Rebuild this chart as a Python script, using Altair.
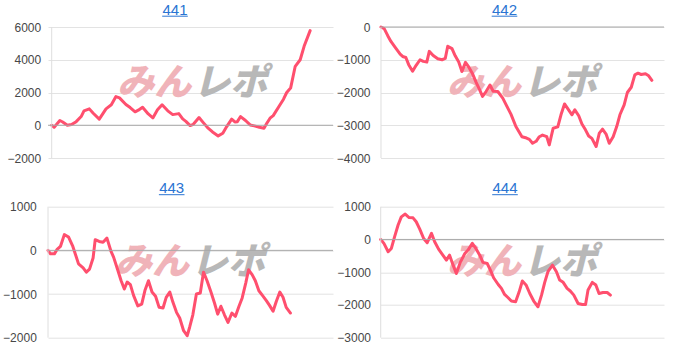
import altair as alt
import pandas as pd

titles = ["441", "442", "443", "444"]

x441 = [0, 0.7, 2.3, 3.1, 4.4, 5.6, 6.9, 8.3, 9.1, 10.6, 11.7, 13.4, 15.3, 16.8, 18.1, 19.1, 20.9, 22.1, 23.5, 24.4,
        25.6, 27.2, 28.5, 29.8, 31.1, 32.7, 34.1, 35.8, 36.9, 37.8, 39.0, 39.9, 41.5, 42.7, 43.9, 45.3, 46.9, 48.2, 49.3, 50.7,
        51.6, 52.3, 53.2, 54.6, 55.9, 57.1, 58.5, 59.8, 60.6, 61.5, 62.4, 64.1, 65.3, 66.2, 67.3, 68.6, 70.0, 71.1, 72.8]
v441 = [0, -120, 290, 200, 0, 40, 220, 530, 880, 1000, 730, 370, 1000, 1250, 1750, 1670, 1270, 1080, 820, 920,
        1100, 690, 450, 940, 1250, 880, 650, 710, 390, 240, -20, 60, 470, 160, -140, -410, -650, -490, -80, 370,
        200, 220, 530, 290, 20, -40, -120, -180, 120, 430, 590, 1180, 1590, 2000, 2270, 3600, 4000, 4820, 5780]

x442 = [0, 0.9, 1.9, 2.8, 4.0, 5.4, 6.1, 7.0, 7.8, 8.9, 9.9, 11.0, 11.9, 12.9, 13.6, 14.7, 16.0, 17.2, 18.1, 18.8,
        20.0, 20.9, 21.9, 22.8, 23.8, 24.7, 25.8, 26.8, 27.7, 28.6, 29.6, 30.7, 31.6, 32.9, 34.3, 35.4, 36.6, 38.0, 39.7, 41.0,
        41.8, 42.7, 43.7, 44.6, 45.5, 46.7, 47.4, 48.5, 49.8, 50.7, 51.7, 52.7, 53.8, 54.6, 55.7, 56.6, 57.6, 58.5, 59.4, 60.6,
        61.5, 62.4, 63.4, 64.3, 65.4, 66.4, 67.3, 68.5, 69.4, 70.5, 71.5, 72.4, 73.3, 74.5, 75.4, 76.3]
v442 = [0, -50, -265, -440, -620, -830, -900, -930, -1150, -1350, -1170, -1000, -1050, -1070, -745, -870, -970, -1000, -960, -590,
        -660, -880, -1070, -1360, -1080, -1220, -1430, -1690, -1900, -2120, -1970, -1770, -1960, -1970, -2170, -2410, -2660, -3040, -3350, -3390,
        -3430, -3550, -3490, -3350, -3300, -3350, -3600, -3090, -3050, -2680, -2350, -2510, -2680, -2530, -2710, -2960, -3140, -3330, -3400, -3650,
        -3240, -3120, -3270, -3550, -3350, -3040, -2680, -2380, -2000, -1840, -1460, -1410, -1450, -1430, -1490, -1630]

x443 = [0, 0.7, 1.8, 2.5, 3.5, 4.6, 5.8, 7.0, 8.6, 9.9, 10.8, 11.7, 12.7, 13.3, 14.4, 15.5, 16.6, 17.7, 18.5, 19.6,
        20.6, 21.5, 22.3, 23.2, 24.1, 25.3, 26.4, 27.3, 28.3, 29.3, 30.3, 31.3, 32.4, 33.3, 34.3, 35.2, 36.2, 37.1, 38.2, 39.2,
        39.9, 40.8, 41.8, 42.9, 43.8, 44.8, 45.9, 46.9, 47.8, 48.7, 49.7, 50.7, 51.8, 52.8, 53.8, 54.7, 55.7, 56.5, 57.5, 58.4,
        59.4, 60.4, 61.5, 62.4, 63.4, 64.3, 65.3, 66.2, 67.1, 68.3]
v443 = [0, -80, -80, 15, 90, 360, 305, 90, -310, -400, -500, -430, -175, 245, 205, 185, 280, -10, -160, -440,
        -695, -885, -725, -785, -1030, -1270, -1230, -920, -695, -955, -1050, -1305, -1320, -1075, -955, -1190, -1420, -1550, -1840, -1955,
        -1760, -1475, -1000, -975, -500, -695, -955, -1205, -1460, -1280, -1475, -1650, -1435, -1510, -1280, -1090, -750, -445, -555, -695,
        -925, -1030, -1150, -1260, -1395, -1170, -955, -1075, -1305, -1435]

x444 = [0, 0.9, 2.1, 3.0, 3.9, 4.9, 5.8, 6.9, 8.0, 9.1, 10.0, 11.0, 12.1, 13.1, 14.3, 15.2, 16.3, 17.4, 18.5, 19.4,
        20.4, 21.3, 22.4, 23.7, 24.6, 25.8, 26.8, 27.9, 28.8, 30.0, 30.9, 31.8, 33.1, 34.0, 34.9, 35.9, 36.8, 38.0, 39.0, 39.9,
        41.0, 42.0, 43.1, 44.3, 45.3, 46.2, 47.1, 48.4, 49.5, 50.4, 51.4, 52.5, 53.4, 54.4, 55.6, 56.8, 57.7, 58.4, 59.6, 60.6,
        61.5, 62.6, 63.8, 64.7]
v444 = [0, -120, -375, -275, 80, 440, 690, 775, 670, 660, 540, 315, 30, -100, 185, -70, -295, -460, -630, -480,
        -785, -1040, -700, -430, -325, -120, -275, -480, -700, -735, -935, -1170, -1375, -1495, -1680, -1780, -1880, -1900, -1600, -1270,
        -1400, -1650, -1880, -2055, -1700, -1310, -985, -785, -985, -1240, -1310, -1495, -1575, -1700, -1955, -1985, -1985, -1545, -1310, -1390,
        -1650, -1620, -1620, -1700]

xs = [x441, x442, x443, x444]
vs = [v441, v442, v443, v444]

y_domains = [[-2000, 6000], [-4000, 0], [-2000, 1000], [-3000, 1000]]
y_ticks = [[-2000, 0, 2000, 4000, 6000], [-4000, -3000, -2000, -1000, 0],
           [-2000, -1000, 0, 1000], [-3000, -2000, -1000, 0, 1000]]
x_domains = [[-1.04, 79.24], [-0.14, 79.72], [0, 80.28], [-0.06, 79.8]]

watermark = ["みん", "レポ"]

LINE = "#ff4f6e"
LINK = "#2a74d2"
H = 131

# per panel layout: width, label padding, title x, title baseline y, underline y, watermark center x
layout = [
    (285, 7.3, 127.0, -12.5, -10.8, 144.3),
    (283.5, 10.5, 124.0, -12.5, -10.8, 141.5),
    (285, 11.7, 123.7, -13.6, -12.0, 142.0),
    (283.5, 10.0, 124.5, -13.6, -12.0, 141.5),
]


def panel(i):
    w, lpad, tx, ty, uy, wx = layout[i]
    df = pd.DataFrame({"x": xs[i], "v": vs[i]})
    xsc = alt.Scale(domain=x_domains[i], nice=False, zero=False)
    ysc = alt.Scale(domain=y_domains[i], nice=False, zero=False)
    yaxis = alt.Axis(
        values=y_ticks[i], format="d", title=None, domain=False, ticks=False, tickSize=0,
        labelPadding=lpad, labelFont="Liberation Sans", labelFontSize=12,
        labelColor="#474747", grid=True, gridColor="#e3e3e3", gridWidth=1,
        labelOverlap=False
    )

    one = pd.DataFrame({"d": [0]})

    wm1 = alt.Chart(pd.DataFrame({"t": [watermark[0]]})).mark_text(
        font="Noto Sans CJK JP", fontSize=37, fontWeight=900, fontStyle="italic",
        color="#f0b3b9", align="right", baseline="middle"
    ).encode(text="t:N", x=alt.value(wx - 1), y=alt.value(56.5))
    wm2 = alt.Chart(pd.DataFrame({"t": [watermark[1]]})).mark_text(
        font="Noto Sans CJK JP", fontSize=37, fontWeight=900, fontStyle="italic",
        color="#b8b8b8", align="left", baseline="middle"
    ).encode(text="t:N", x=alt.value(wx + 1), y=alt.value(56.5))

    line = alt.Chart(df).mark_line(
        color=LINE, strokeWidth=3, strokeJoin="round", strokeCap="round"
    ).encode(
        x=alt.X("x:Q", scale=xsc, axis=None),
        y=alt.Y("v:Q", scale=ysc, axis=yaxis),
    )
    zero = alt.Chart(pd.DataFrame({"v": [0]})).mark_rule(color="#a8a8a8", strokeWidth=1).encode(
        y=alt.Y("v:Q", scale=ysc, axis=yaxis)
    )
    vaxis = alt.Chart(pd.DataFrame({"x": [0]})).mark_rule(color="#dedede", strokeWidth=1).encode(
        x=alt.X("x:Q", scale=xsc, axis=None)
    )

    title = alt.Chart(pd.DataFrame({"t": [titles[i]]})).mark_text(
        font="Liberation Sans", fontSize=15, color=LINK, align="center", baseline="alphabetic"
    ).encode(text="t:N", x=alt.value(tx), y=alt.value(ty))
    underline = alt.Chart(one).mark_rule(color=LINK, strokeWidth=1).encode(
        x=alt.value(tx - 12.8), x2=alt.value(tx + 12.8), y=alt.value(uy)
    )

    layers = [wm1, wm2, line, vaxis, zero, title, underline]
    if i == 0:
        layers.append(alt.Chart(one).mark_rect(opacity=0).encode(
            x=alt.value(-48), x2=alt.value(0), y=alt.value(-27), y2=alt.value(0)))
    if i == 3:
        layers.append(alt.Chart(one).mark_rect(opacity=0).encode(
            x=alt.value(0), x2=alt.value(w + 7.5), y=alt.value(0), y2=alt.value(H + 8)))
    return alt.layer(*layers).properties(width=w, height=H)


chart = alt.concat(
    panel(0), panel(1), panel(2), panel(3),
    columns=2, spacing={"row": 48.7, "column": 47.5}, bounds="flush"
).properties(padding=0, background="white").configure_view(stroke=None)

chart.save("out.html", embed_options={"renderer": "svg", "actions": False})
